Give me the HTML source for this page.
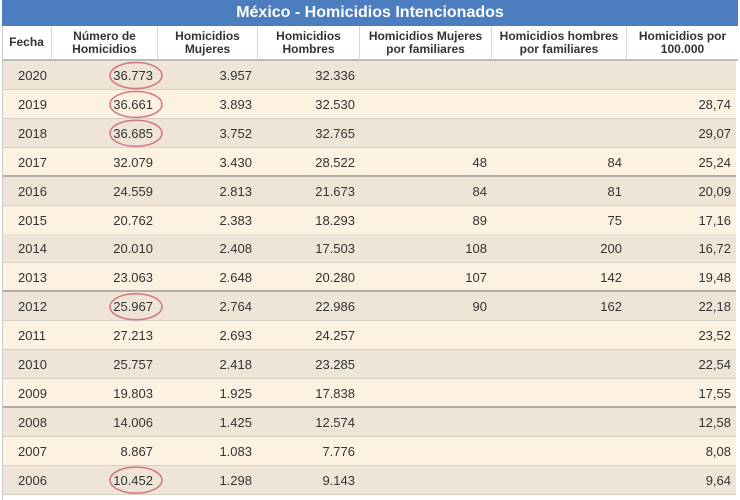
<!DOCTYPE html>
<html><head><meta charset="utf-8"><style>
body{margin:0;width:740px;height:500px;background:#fff;font-family:"Liberation Sans",Arial,sans-serif;overflow:hidden;position:relative}
#title{position:absolute;left:2px;top:0;width:736px;height:26px;background:#4b7dbf;color:#fff;font-weight:bold;font-size:16px;text-align:center;line-height:26px}
.h{position:absolute;top:26px;height:35px;background:#fff;font-weight:bold;font-size:12px;color:#333;text-align:center;line-height:13px;display:flex;align-items:center;justify-content:center;box-sizing:border-box;border-right:1px solid #d8d8d8;border-bottom:2px solid #bbb}
.row{position:absolute;left:3px;width:733px;height:29px;box-sizing:border-box;border-bottom:1px solid #d6cfc4}
.c{position:absolute;font-size:13px;color:#333;line-height:29px;text-align:right}
#lb{position:absolute;left:2px;top:26px;width:1px;height:474px;background:#ccc}
</style></head><body>
<div id="title">México - Homicidios Intencionados</div>
<div class="h" style="left:2px;width:50px">Fecha</div>
<div class="h" style="left:52px;width:106px">Número de<br>Homicidios</div>
<div class="h" style="left:158px;width:100px">Homicidios<br>Mujeres</div>
<div class="h" style="left:258px;width:102px">Homicidios<br>Hombres</div>
<div class="h" style="left:360px;width:132px">Homicidios Mujeres<br>por familiares</div>
<div class="h" style="left:492px;width:135px">Homicidios hombres<br>por familiares</div>
<div class="h" style="left:627px;width:111px;border-right:none">Homicidios por<br>100.000</div>
<div id="rows"></div>
<div id="lb"></div>
<svg id="marks" width="740" height="500" style="position:absolute;left:0;top:0;pointer-events:none"></svg>
<script>
const years=["2020","2019","2018","2017","2016","2015","2014","2013","2012","2011","2010","2009","2008","2007","2006"];
const total=["36.773","36.661","36.685","32.079","24.559","20.762","20.010","23.063","25.967","27.213","25.757","19.803","14.006","8.867","10.452"];
const mujeres=["3.957","3.893","3.752","3.430","2.813","2.383","2.408","2.648","2.764","2.693","2.418","1.925","1.425","1.083","1.298"];
const hombres=["32.336","32.530","32.765","28.522","21.673","18.293","17.503","20.280","22.986","24.257","23.285","17.838","12.574","7.776","9.143"];
const famMujeres=["","","","48","84","89","108","107","90","","","","","",""];
const famHombres=["","","","84","81","75","200","142","162","","","","","",""];
const per100k=["","28,74","29,07","25,24","20,09","17,16","16,72","19,48","22,18","23,52","22,54","17,55","12,58","8,08","9,64"];
const circled=["2020","2019","2018","2012","2006"];
const rowsEl=document.getElementById('rows');
const rights=[47,153,252,355,487,622,731];
const lefts=[10,55,160,260,362,494,629];
years.forEach((y,i)=>{
  const top=61+i*28.9;
  const r=document.createElement('div');
  r.className='row';
  
  
  r.style.top=top+'px';
  r.style.background=i%2==0?'#efe5d6':'#fdf1e1';
  if(i%4==3&&i<14){r.style.borderBottom='2px solid #b3aca3';}
  rowsEl.appendChild(r);
  const vals=[y,total[i],mujeres[i],hombres[i],famMujeres[i],famHombres[i],per100k[i]];
  const names=['fecha','numero','mujeres','hombres','mujeres-familiares','hombres-familiares','por-100000'];
  vals.forEach((v,j)=>{
    const c=document.createElement('div');
    c.className='c';
    
    
    c.style.top=top+'px';
    if(j==0){c.style.left='18px';c.style.textAlign='left';}
    else{c.style.right=(740-rights[j])+'px';}
    c.textContent=v;
    document.body.appendChild(c);
  });
  if(circled.includes(y)){
    const e=document.createElementNS('http://www.w3.org/2000/svg','ellipse');
    
    
    e.setAttribute('cx',136);e.setAttribute('cy',top+14.5);
    e.setAttribute('rx',26);e.setAttribute('ry',13);
    e.setAttribute('fill','none');e.setAttribute('stroke','#c85a6a');
    e.setAttribute('stroke-width','1.5');e.setAttribute('opacity','0.8');
    document.getElementById('marks').appendChild(e);
  }
});
</script>
</body></html>
